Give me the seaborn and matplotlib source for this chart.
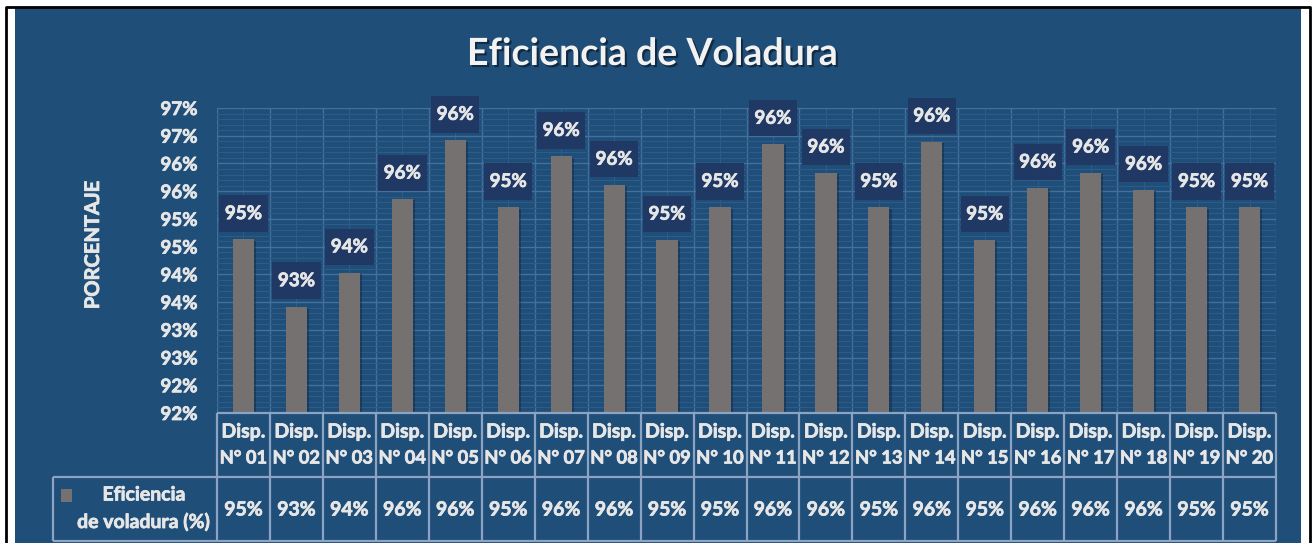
import matplotlib
matplotlib.use("Agg")
import matplotlib.pyplot as plt
import matplotlib.patheffects as pe
from matplotlib.patches import Rectangle
from matplotlib.lines import Line2D
from matplotlib.path import Path
from matplotlib.ticker import MultipleLocator
import seaborn as sns
import pandas as pd

# ---------------- data ----------------
encabezado = ["Disp."] * 20
disparos = ["N° 01", "N° 02", "N° 03", "N° 04", "N° 05", "N° 06", "N° 07", "N° 08",
            "N° 09", "N° 10", "N° 11", "N° 12", "N° 13", "N° 14", "N° 15", "N° 16",
            "N° 17", "N° 18", "N° 19", "N° 20"]
eficiencia = [94.63, 93.42, 94.03, 95.36, 96.42, 95.21, 96.13, 95.61, 94.62, 95.21,
              96.35, 95.83, 95.21, 96.39, 94.62, 95.56, 95.83, 95.52, 95.21, 95.21]
etiquetas = ["95%", "93%", "94%", "96%", "96%", "95%", "96%", "96%", "95%", "95%",
             "96%", "96%", "95%", "96%", "95%", "96%", "96%", "96%", "95%", "95%"]
ytick_vals = [91.5, 92.0, 92.5, 93.0, 93.5, 94.0, 94.5, 95.0, 95.5, 96.0, 96.5, 97.0]
ytick_labels = ["92%", "92%", "93%", "93%", "94%", "94%", "95%", "95%", "96%", "96%", "97%", "97%"]
titulo = "Eficiencia de Voladura"
ylabel = "PORCENTAJE"
serie = ["Eficiencia", "de voladura (%)"]

# ---------------- style ----------------
BG = "#1F4E79"
BAR = "#767171"
BOX = "#203864"
TXT = "#E6E6E6"
LINE = "#8CA3C2"
GRID_MAJ = "#44709E"
GRID_MIN = "#2E5C8A"

sns.set_style("white")
plt.rcParams["font.family"] = ["Lato", "DejaVu Sans"]
plt.rcParams["font.weight"] = "bold"

W, H = 1314, 543
def fx(px):
    return px / W
def fy(py):
    return 1 - py / H

HEAVY = [pe.withStroke(linewidth=0.55, foreground=TXT)]


def label_box(x0, y0, width, height, mutation_size):
    padx = 0.30 * mutation_size
    pady = 0.52 * mutation_size
    x0, y0 = x0 - padx, y0 - pady
    x1, y1 = x0 + width + 2 * padx, y0 + height + 2 * pady
    return Path([(x0, y0), (x1, y0), (x1, y1), (x0, y1), (x0, y0)], closed=True)


fig = plt.figure(figsize=(W / 100, H / 100), dpi=100)
fig.patch.set_facecolor("white")

# blue background panel and outer black frame
fig.add_artist(Rectangle((fx(15), 0), fx(1301) - fx(15), fy(8), transform=fig.transFigure,
                         facecolor=BG, edgecolor="none", zorder=-10))
fig.add_artist(Line2D([fx(6), fx(6), fx(1310), fx(1310)], [0, fy(7), fy(7), 0],
                      transform=fig.transFigure, color="black", lw=2))

# ---------------- bar axes ----------------
ax = fig.add_axes([fx(217), fy(413), (1276 - 217) / W, (413 - 108) / H])
ax.set_facecolor(BG)
df = pd.DataFrame({"disparo": disparos, "eficiencia": eficiencia})
sns.barplot(data=df, x="disparo", y="eficiencia", color=BAR, saturation=1, width=0.4,
            edgecolor="none", ax=ax, zorder=3)
for p in ax.patches:
    p.set_path_effects([pe.SimplePatchShadow(offset=(1.5, -1.0), shadow_rgbFace="#10263d", alpha=0.45),
                        pe.Normal()])

ax.set_ylim(ytick_vals[0], ytick_vals[-1])
ax.set_xlim(-0.5, len(disparos) - 0.5)
ax.set_yticks(ytick_vals)
ax.set_yticklabels(ytick_labels)
ax.yaxis.set_minor_locator(MultipleLocator(0.1))
ax.set_xticks([i - 0.5 for i in range(len(disparos) + 1)])
ax.set_xticks(list(range(len(disparos))), minor=True)
ax.set_xticklabels([])
ax.set_xticklabels([], minor=True)
ax.tick_params(axis="both", which="both", length=0)
ax.tick_params(axis="y", pad=14, labelsize=13.5, labelcolor=TXT)
for lbl in ax.get_yticklabels():
    lbl.set_fontweight("bold")
    lbl.set_path_effects(HEAVY)
ax.set_xlabel("")
ax.set_ylabel("")
ax.grid(which="major", color=GRID_MAJ, lw=1.0, zorder=0)
ax.grid(which="minor", color=GRID_MIN, lw=0.8, zorder=0)
ax.set_axisbelow(True)
for s in ax.spines.values():
    s.set_visible(False)

for p, lab in zip(ax.patches, etiquetas):
    ax.annotate(lab, xy=(p.get_x() + p.get_width() / 2, p.get_height()),
                xytext=(0, 18.6), textcoords="offset points", ha="center", va="center",
                fontsize=13.5, fontweight="bold", color=TXT, zorder=5, annotation_clip=False,
                path_effects=HEAVY,
                bbox=dict(boxstyle=label_box, fc=BOX, ec="none"))

# ---------------- title / y label ----------------
fig.text(fx(652), fy(54), titulo, ha="center", va="center", fontsize=27, fontweight="bold",
         color="#F2F2F2",
         path_effects=[pe.withSimplePatchShadow(offset=(1.5, -1.5), shadow_rgbFace="black", alpha=0.45)])
fig.text(fx(93), fy(245), ylabel, rotation=90, ha="center", va="center", fontsize=14.5,
         fontweight="bold", color=TXT, path_effects=HEAVY)

# ---------------- data table ----------------
cat_w = (1276 - 217) / len(disparos)
xL = -0.5 - (217 - 53) / cat_w
tax = fig.add_axes([fx(53), fy(541), (1276 - 53) / W, (541 - 413) / H])
tax.set_xlim(xL, len(disparos) - 0.5)
tax.set_ylim(0, 128)
tax.axis("off")
kw = dict(color=LINE, lw=1.6, solid_capstyle="butt", clip_on=False)
tax.plot([-0.5, len(disparos) - 0.5], [128, 128], **kw)
tax.plot([xL, len(disparos) - 0.5], [64, 64], **kw)
tax.plot([xL, len(disparos) - 0.5], [0.5, 0.5], **kw)
for k in range(len(disparos) + 1):
    tax.plot([k - 0.5, k - 0.5], [0, 128], **kw)
tax.plot([xL, xL], [0, 64], **kw)

FS = 14
tkw = dict(ha="center", va="center", fontweight="bold", color=TXT, path_effects=HEAVY)
for i in range(len(disparos)):
    tax.text(i, 541 - 432, encabezado[i], fontsize=FS, **tkw)
    tax.text(i, 541 - 458, disparos[i], fontsize=13.2, **tkw)
    tax.text(i, 541 - 510, etiquetas[i], fontsize=FS, **tkw)

tax.add_patch(Rectangle((xL + (61 - 53) / cat_w, 541 - 502), 11 / cat_w, 13,
                        facecolor=BAR, edgecolor="none", clip_on=False))
xc = xL + (144 - 53) / cat_w
tax.text(xc, 541 - 495, serie[0], fontsize=FS, **tkw)
tax.text(xc, 541 - 522, serie[1], fontsize=FS, **tkw)

fig.savefig("out.png", dpi=100, facecolor=fig.get_facecolor())
